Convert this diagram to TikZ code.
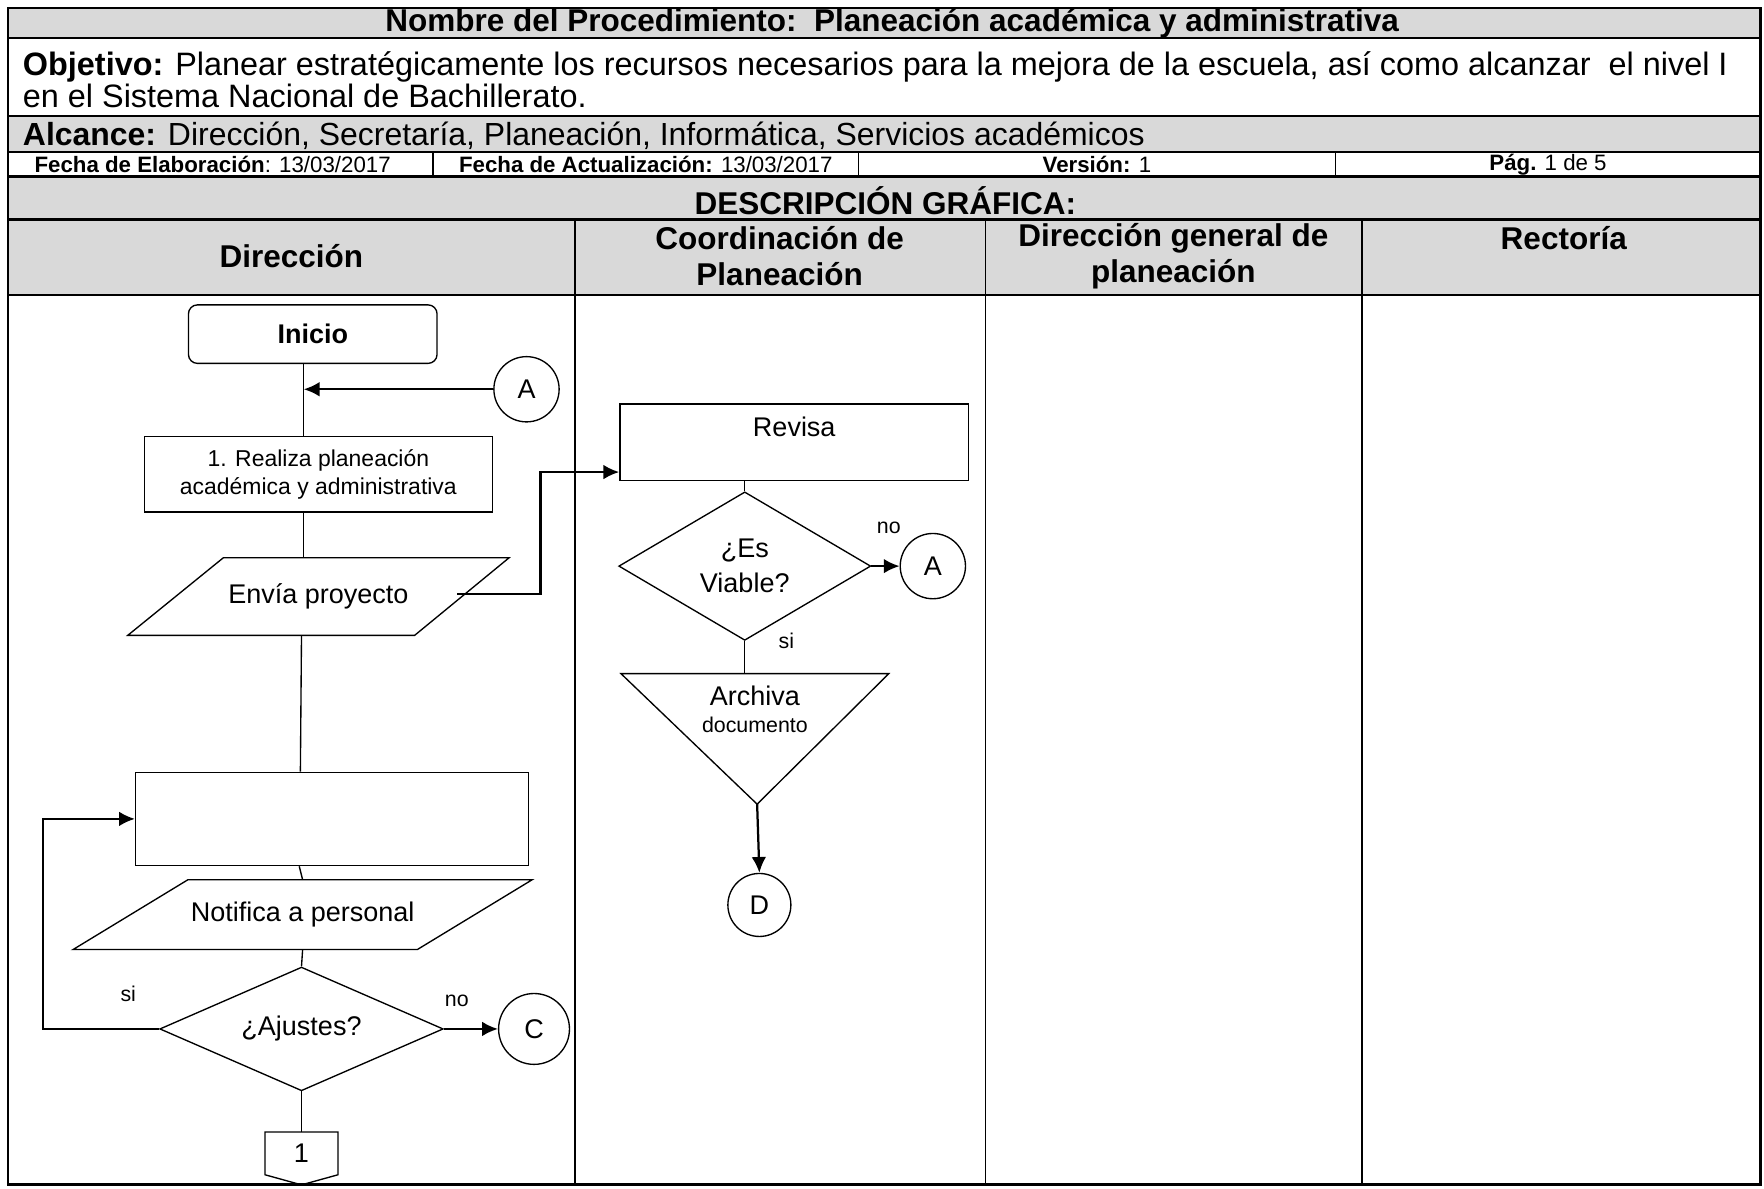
\documentclass[tikz,border=0pt]{standalone}
\usepackage{fontspec}
\setmainfont{Liberation Sans}
\usepackage{xcolor}
\usetikzlibrary{arrows.meta, positioning, calc, shapes.geometric}
\definecolor{headgray}{HTML}{D9D9D9}

\begin{document}
\begin{tikzpicture}[x=0.5pt,y=-0.5pt,>={Latex[length=7pt,width=6.5pt]},
    line/.style={line width=0.6pt},
    flow/.style={line width=1pt,->},
    rule/.style={line width=1.1pt},
    head text/.style={font=\bfseries\fontsize{14}{16}\selectfont,align=center,inner sep=0pt},
    row text/.style={font=\fontsize{14.4}{14}\selectfont,align=left,inner sep=0pt,anchor=west},
    small text/.style={font=\fontsize{9.9}{11}\selectfont,inner sep=0pt},
    main node/.style={rectangle,draw,line width=0.6pt,align=center,inner sep=2pt,font=\fontsize{12}{14}\selectfont},
    io node/.style={rectangle,align=center,inner sep=0pt,outer sep=0pt,font=\fontsize{12}{14}\selectfont},
    decision node/.style={diamond,draw,line width=0.6pt,align=center,inner sep=0pt,font=\fontsize{12}{15.5}\selectfont},
    connector node/.style={circle,draw,line width=0.6pt,inner sep=0pt,minimum size=29pt,font=\fontsize{12}{14}\selectfont},
    label node/.style={font=\fontsize{9.5}{11}\selectfont,inner sep=0pt}]

    \useasboundingbox (0,0) rectangle (1568,1056);

    % table
    \fill[headgray] (7,7) rectangle (1565,34);
    \fill[headgray] (7,103) rectangle (1565,135);
    \fill[headgray] (7,157) rectangle (1565,262);
    \foreach \y in {34,103,135,157,195,262}
        \draw[rule] (7,\y) -- (1565,\y);
    \foreach \x in {385,763,1187}
        \draw[line] (\x,135) -- (\x,157);
    \foreach \x in {511,876,1211}
        \draw[line width=0.8pt] (\x,195) -- (\x,1053);
    \draw[line width=1.2pt] (7,7) rectangle (1565,1053);

    \node[head text] (titulo) at (793,21) {Nombre del Procedimiento:\ \ Planeación académica y administrativa};
    \node[row text] (objetivo) at (20,71) {\textbf{Objetivo:} Planear estratégicamente los recursos necesarios para la mejora de la escuela, así como alcanzar\ \ el nivel I\\en el Sistema Nacional de Bachillerato.};
    \node[row text,font=\fontsize{14.2}{14}\selectfont] (alcance) at (20,121) {\textbf{Alcance:} Dirección, Secretaría, Planeación, Informática, Servicios académicos};
    \node[small text] (fechaElab) at (189,146) {\textbf{Fecha de Elaboración}: 13/03/2017};
    \node[small text] (fechaAct) at (574,146) {\textbf{Fecha de Actualización:} 13/03/2017};
    \node[small text] (version) at (975,146) {\textbf{Versión:} 1};
    \node[small text] (pagina) at (1376,146) {\textbf{Pág.} 1 de 5};
    \node[head text] (descripcion) at (787,178) {DESCRIPCIÓN GRÁFICA:};
    \node[head text] (hDir) at (259,228) {Dirección};
    \node[head text] (hCoord) at (693,228) {Coordinación de\\Planeación};
    \node[head text] (hDgp) at (1043,228) {Dirección general de\\planeación};
    \node[head text] (hRect) at (1390,212) {Rectoría};

    % Direccion
    \coordinate (spine) at (270,300);
    \node[main node,rounded corners=4pt,minimum width=110.5pt,minimum height=26pt,font=\bfseries\fontsize{12}{14}\selectfont] (inicio) at (278,297) {Inicio};
    \node[connector node] (cA) at (468,346) {A};
    \node[main node,minimum width=154.5pt,minimum height=33.5pt,font=\fontsize{10.2}{12.5}\selectfont] (realiza) [below=32pt of inicio,xshift=2.5pt] {1. Realiza planeación\\académica y administrativa};
    \node[io node,minimum width=169.5pt,minimum height=34.5pt] (envia) [below=20pt of realiza] {Envía proyecto};
    \node[main node,minimum width=174.5pt,minimum height=41.5pt] (tarea) [below=60.5pt of envia,xshift=6pt] {};
    \node[io node,minimum width=204pt,minimum height=31pt] (notifica) [below=6pt of tarea,xshift=-13pt] {Notifica a personal};
    \node[decision node,aspect=2.3,minimum width=126pt,minimum height=55pt] (ajustes) [below=7.5pt of notifica,xshift=-0.5pt] {¿Ajustes?};
    \node[connector node,minimum size=31.5pt] (cC) [right=24pt of ajustes] {C};
    \node[io node,minimum width=32.5pt,minimum height=19pt] (pag1) [below=18pt of ajustes] {1};

    \draw[line] (envia.south west) -- ($(envia.south east)+(-84,0)$) -- (envia.north east) -- ($(envia.north west)+(85,0)$) -- cycle;
    \draw[line] (notifica.south west) -- ($(notifica.south east)+(-102,0)$) -- (notifica.north east) -- ($(notifica.north west)+(102,0)$) -- cycle;
    \draw[line] (pag1.south west) -- (pag1.north west) -- (pag1.north east) -- (pag1.south east) -- ($(pag1.south)+(0,9)$) -- cycle;

    \draw[line] (inicio.south -| spine) -- (realiza.north -| spine);
    \draw[flow] (cA.west) -- (cA.west -| spine);
    \draw[line] (realiza.south -| spine) -- (envia.north -| spine);
    \draw[line] ($(envia.south -| spine)+(-2,0)$) -- ($(tarea.north -| spine)+(-3,0)$);
    \draw[line] ($(tarea.south -| spine)+(-4,0)$) -- (notifica.north);
    \draw[line] (notifica.south) -- (ajustes.north);
    \draw[line] (ajustes.south) -- (pag1.north);
    \draw[flow] (ajustes.east) -- (cC.west);
    \draw[flow] (ajustes.west) -- ++(-103,0) |- (tarea.west);
    \node[label node] (siAjustes) at (114,883) {si};
    \node[label node] (noAjustes) at (406,890) {no};

    % Coordinacion de Planeacion
    \node[main node,minimum width=155pt,minimum height=34pt,text height=8pt,text depth=13pt] (revisa) at (706,393) {Revisa};
    \node[decision node,aspect=1.7,minimum width=112pt,minimum height=66pt] (viable) [below=4.5pt of revisa,xshift=-22pt] {¿Es\\Viable?};
    \node[connector node] (cA2) [right=12.5pt of viable] {A};
    \node[io node,minimum width=119pt,minimum height=32pt] (archiva) [below=14.5pt of viable,xshift=4.5pt] {Archiva\\[-2pt]{\fontsize{9.5}{11}\selectfont documento}};
    \coordinate (archTip) at ($(archiva.north)+(2,116)$);
    \node[connector node,minimum size=28pt] (cD) [below=56.5pt of archiva,xshift=2pt] {D};

    \draw[line] (archiva.north west) -- (archiva.north east) -- (archTip) -- cycle;

    \draw[flow] ($(envia.east)+(-46,-2)$) -- ++(74,0) |- ($(revisa.south west)+(0,-8)$);
    \draw[line] (viable.north) -- (viable.north |- revisa.south);
    \draw[flow] (viable.east) -- (cA2.west);
    \draw[line] (viable.south) -- (viable.south |- archiva.north);
    \draw[flow] (archTip) -- (cD.north);
    \node[label node] (noViable) at (790,469) {no};
    \node[label node] (siViable) at (699,570) {si};
\end{tikzpicture}
\end{document}
